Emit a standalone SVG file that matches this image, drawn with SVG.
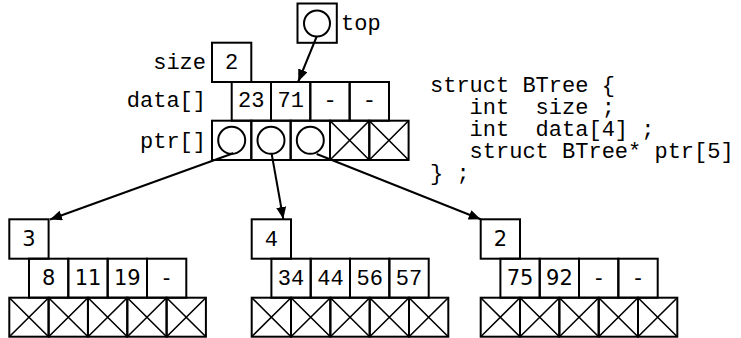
<svg xmlns="http://www.w3.org/2000/svg" width="741" height="338" viewBox="0 0 741 338">
<defs>
<style>
.c{fill:none;stroke:#000;stroke-width:2}
.x{fill:none;stroke:#000;stroke-width:1.6}
.m{font-family:"Liberation Mono","Courier New",monospace;font-size:22px;fill:#000}
.s{font-family:"DejaVu Sans",sans-serif;font-size:21px;fill:#000}
.mid{text-anchor:middle}
.end{text-anchor:end}
.a{fill:none;stroke:#000;stroke-width:2}
</style>
<marker id="ah" markerUnits="userSpaceOnUse" markerWidth="13" markerHeight="11" refX="12" refY="5" orient="auto">
<path d="M0,0 L12,5 L0,10 z" fill="#000"/>
</marker>
</defs>
<rect width="741" height="338" fill="#fff"/>

<g id="top">
<rect class="c" x="297.5" y="3.5" width="39.3" height="39.3"/>
<circle class="c" cx="317" cy="23.5" r="13"/>
<text class="m" x="341" y="30">top</text>
</g>

<g id="root">
<text class="m end" x="206" y="68.5">size</text>
<text class="m end" x="206" y="106.5">data[]</text>
<text class="m end" x="206" y="147.5">ptr[]</text>
<rect class="c" x="212" y="42.7" width="39.3" height="39.3"/>
<text class="m mid" x="231.7" y="68.5">2</text>
<rect class="c" x="231.7" y="82" width="39.3" height="38.7"/>
<rect class="c" x="271" y="82" width="39.3" height="38.7"/>
<rect class="c" x="310.3" y="82" width="39.3" height="38.7"/>
<rect class="c" x="349.7" y="82" width="39.3" height="38.7"/>
<text class="m mid" x="251.3" y="106.5">23</text>
<text class="m mid" x="290.7" y="106.5">71</text>
<text class="m mid" x="330" y="106.5">-</text>
<text class="m mid" x="369.3" y="106.5">-</text>
<rect class="c" x="212" y="120.7" width="39.3" height="39.3"/>
<rect class="c" x="251.3" y="120.7" width="39.3" height="39.3"/>
<rect class="c" x="290.7" y="120.7" width="39.3" height="39.3"/>
<rect class="c" x="330" y="120.7" width="39.3" height="39.3"/>
<rect class="c" x="369.3" y="120.7" width="39.3" height="39.3"/>
<circle class="c" cx="231.7" cy="140.3" r="13.5"/>
<circle class="c" cx="271" cy="140.3" r="13.5"/>
<circle class="c" cx="310.3" cy="140.3" r="13.5"/>
<path class="x" d="M330,120.7 L369.3,160 M369.3,120.7 L330,160 M369.3,120.7 L408.6,160 M408.6,120.7 L369.3,160"/>
</g>

<g id="struct">
<text class="m" x="430" y="91.5" xml:space="preserve">struct BTree {</text>
<text class="m" x="430" y="113.5" xml:space="preserve">   int  size ;</text>
<text class="m" x="430" y="135.5" xml:space="preserve">   int  data[4] ;</text>
<text class="m" x="430" y="157.5" xml:space="preserve">   struct BTree* ptr[5]</text>
<text class="m" x="430" y="179.5" xml:space="preserve">} ;</text>
</g>

<g id="child-left">
<rect class="c" x="9.3" y="219.3" width="39.3" height="39.4"/>
<text class="s mid" x="29" y="245.5">3</text>
<rect class="c" x="29" y="258.7" width="39.3" height="39"/>
<rect class="c" x="68.3" y="258.7" width="39.3" height="39"/>
<rect class="c" x="107.7" y="258.7" width="39.3" height="39"/>
<rect class="c" x="147" y="258.7" width="39.3" height="39"/>
<text class="s mid" x="48.6" y="285">8</text>
<text class="s mid" x="88" y="285">11</text>
<text class="s mid" x="127.3" y="285">19</text>
<text class="s mid" x="166.6" y="285">-</text>
<rect class="c" x="9.3" y="297.7" width="39.3" height="39"/>
<rect class="c" x="48.6" y="297.7" width="39.3" height="39"/>
<rect class="c" x="88" y="297.7" width="39.3" height="39"/>
<rect class="c" x="127.3" y="297.7" width="39.3" height="39"/>
<rect class="c" x="166.6" y="297.7" width="39.3" height="39"/>
<path class="x" d="M9.3,297.7 L48.6,336.7 M48.6,297.7 L9.3,336.7 M48.6,297.7 L88,336.7 M88,297.7 L48.6,336.7 M88,297.7 L127.3,336.7 M127.3,297.7 L88,336.7 M127.3,297.7 L166.6,336.7 M166.6,297.7 L127.3,336.7 M166.6,297.7 L205.9,336.7 M205.9,297.7 L166.6,336.7"/>
</g>

<g id="child-middle">
<rect class="c" x="251.7" y="219.3" width="39.3" height="39.4"/>
<text class="m mid" x="271.4" y="245.5">4</text>
<rect class="c" x="271.4" y="258.7" width="39.3" height="39"/>
<rect class="c" x="310.7" y="258.7" width="39.3" height="39"/>
<rect class="c" x="350" y="258.7" width="39.3" height="39"/>
<rect class="c" x="389.4" y="258.7" width="39.3" height="39"/>
<text class="m mid" x="291" y="285">34</text>
<text class="m mid" x="330.4" y="285">44</text>
<text class="m mid" x="369.7" y="285">56</text>
<text class="m mid" x="409" y="285">57</text>
<rect class="c" x="251.7" y="297.7" width="39.3" height="39"/>
<rect class="c" x="291" y="297.7" width="39.3" height="39"/>
<rect class="c" x="330.4" y="297.7" width="39.3" height="39"/>
<rect class="c" x="369.7" y="297.7" width="39.3" height="39"/>
<rect class="c" x="409" y="297.7" width="39.3" height="39"/>
<path class="x" d="M251.7,297.7 L291,336.7 M291,297.7 L251.7,336.7 M291,297.7 L330.4,336.7 M330.4,297.7 L291,336.7 M330.4,297.7 L369.7,336.7 M369.7,297.7 L330.4,336.7 M369.7,297.7 L409,336.7 M409,297.7 L369.7,336.7 M409,297.7 L448.3,336.7 M448.3,297.7 L409,336.7"/>
</g>

<g id="child-right">
<rect class="c" x="480.7" y="219.3" width="39.3" height="39.4"/>
<text class="s mid" x="500.4" y="245.5">2</text>
<rect class="c" x="500.4" y="258.7" width="39.3" height="39"/>
<rect class="c" x="539.7" y="258.7" width="39.3" height="39"/>
<rect class="c" x="579" y="258.7" width="39.3" height="39"/>
<rect class="c" x="618.4" y="258.7" width="39.3" height="39"/>
<text class="s mid" x="520" y="285">75</text>
<text class="s mid" x="559.4" y="285">92</text>
<text class="s mid" x="598.7" y="285">-</text>
<text class="s mid" x="638" y="285">-</text>
<rect class="c" x="480.7" y="297.7" width="39.3" height="39"/>
<rect class="c" x="520" y="297.7" width="39.3" height="39"/>
<rect class="c" x="559.4" y="297.7" width="39.3" height="39"/>
<rect class="c" x="598.7" y="297.7" width="39.3" height="39"/>
<rect class="c" x="638" y="297.7" width="39.3" height="39"/>
<path class="x" d="M480.7,297.7 L520,336.7 M520,297.7 L480.7,336.7 M520,297.7 L559.4,336.7 M559.4,297.7 L520,336.7 M559.4,297.7 L598.7,336.7 M598.7,297.7 L559.4,336.7 M598.7,297.7 L638,336.7 M638,297.7 L598.7,336.7 M638,297.7 L677.3,336.7 M677.3,297.7 L638,336.7"/>
</g>

<g id="connectors">
<line class="a" x1="316.7" y1="36.5" x2="298.3" y2="81.5" marker-end="url(#ah)"/>
<line class="a" x1="233.3" y1="153.3" x2="50" y2="219.5" marker-end="url(#ah)"/>
<line class="a" x1="271.7" y1="154" x2="283.3" y2="219" marker-end="url(#ah)"/>
<line class="a" x1="316.7" y1="154" x2="480.7" y2="219.3" marker-end="url(#ah)"/>
</g>
</svg>
